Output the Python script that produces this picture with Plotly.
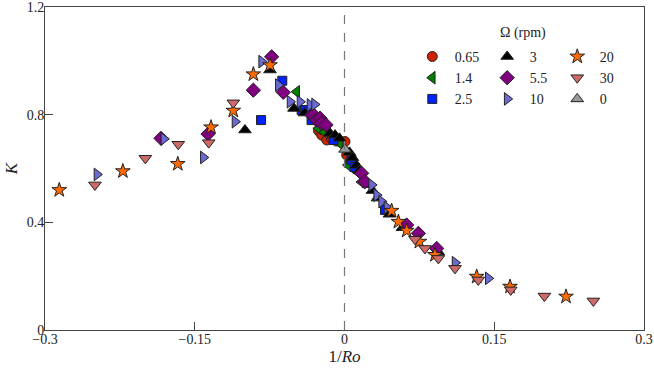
import plotly.graph_objects as go

# K against 1/Ro, one series per rotation rate (rpm)
x_065 = [-0.026, -0.0228, -0.0178, -0.013, -0.008, 0.0005, 0.0022, 0.006, 0.011]
k_065 = [0.740, 0.724, 0.706, 0.712, 0.702, 0.700, 0.650, 0.625, 0.600]

x_14 = [-0.0479, -0.0262, -0.020, -0.0045, 0.0035, 0.0055, 0.012, 0.017]
k_14 = [0.885, 0.749, 0.735, 0.693, 0.613, 0.631, 0.590, 0.550]

x_25 = [-0.0836, -0.0623, -0.0429, -0.0396, -0.033, -0.011, 0.007, 0.010, 0.0406]
k_25 = [0.780, 0.926, 0.817, 0.817, 0.780, 0.706, 0.631, 0.605, 0.446]

x_3 = [-0.0997, -0.0746, -0.0506, -0.040, -0.0145, -0.0095, -0.005, 0.005, 0.008,
       0.012, 0.015, 0.020, 0.024, 0.028, 0.033, 0.045, 0.058, 0.094]
k_3 = [0.743, 0.966, 0.823, 0.806, 0.731, 0.724, 0.712, 0.660, 0.640,
       0.612, 0.592, 0.560, 0.540, 0.518, 0.490, 0.430, 0.380, 0.290]

x_55 = [-0.1838, -0.1367, -0.0913, -0.073, -0.0613, -0.0329, -0.031, -0.0279,
        -0.0245, -0.0229, -0.0185, 0.0172, 0.0205, 0.0623, 0.074, 0.0923]
k_55 = [0.712, 0.728, 0.891, 1.015, 0.883, 0.799, 0.799, 0.780,
        0.787, 0.768, 0.762, 0.582, 0.551, 0.390, 0.359, 0.303]

x_10 = [-0.248, -0.181, -0.1414, -0.1097, -0.083, -0.0663, -0.0546, -0.0446,
        -0.0346, -0.030, 0.0272, 0.0322, 0.0372, 0.0425, 0.1107, 0.144]
k_10 = [0.578, 0.710, 0.641, 0.774, 0.997, 0.910, 0.848, 0.848,
        0.836, 0.838, 0.539, 0.501, 0.477, 0.455, 0.250, 0.192]

x_20 = [-0.2857, -0.222, -0.167, -0.1337, -0.1114, -0.0913, -0.0746, 0.0472,
        0.054, 0.0623, 0.075, 0.0906, 0.1324, 0.1658, 0.2219]
k_20 = [0.520, 0.590, 0.617, 0.753, 0.815, 0.950, 0.984, 0.443,
        0.402, 0.369, 0.328, 0.279, 0.198, 0.161, 0.124]

x_30 = [-0.250, -0.1995, -0.1665, -0.136, -0.1114, 0.0706, 0.0806, 0.094,
        0.1107, 0.134, 0.1665, 0.2002, 0.2493]
k_30 = [0.539, 0.638, 0.690, 0.696, 0.844, 0.337, 0.303, 0.266,
        0.229, 0.186, 0.149, 0.126, 0.108]

x_0 = [0.0005]
k_0 = [0.671]

series = [
    ("0.65", x_065, k_065, "circle", "#cc2200", 10, "legend"),
    ("1.4", x_14, k_14, "triangle-left", "#008000", 11, "legend"),
    ("2.5", x_25, k_25, "square", "#0022ff", 9, "legend"),
    ("3", x_3, k_3, "triangle-up", "#000000", 11, "legend2"),
    ("5.5", x_55, k_55, "diamond", "#800080", 11, "legend2"),
    ("10", x_10, k_10, "triangle-right", "#6a6ad0", 11, "legend2"),
    ("20", x_20, k_20, "star", "#ff6a00", 11, "legend3"),
    ("30", x_30, k_30, "triangle-down", "#cd6a6a", 11, "legend3"),
    ("0", x_0, k_0, "triangle-up", "#999999", 11, "legend3"),
]

serif = "Liberation Serif, DejaVu Serif"

fig = go.Figure()
for name, xs, ks, sym, col, size, leg in series:
    fig.add_trace(
        go.Scatter(
            x=xs,
            y=ks,
            mode="markers",
            name=name,
            legend=leg,
            marker=dict(symbol=sym, color=col, size=size,
                        line=dict(color="#222222", width=1))
        )
    )

fig.add_vline(x=0, line=dict(color="#777777", width=1.2, dash="dash"))

legend_style = dict(font=dict(family=serif, size=14, color="#222222"),
                    bgcolor="rgba(0,0,0,0)", yanchor="top", xanchor="left",
                    y=0.895, itemwidth=35, tracegroupgap=0)

fig.update_layout(
    width=654,
    height=370,
    margin=dict(l=45, r=10, t=7, b=40),
    plot_bgcolor="white",
    paper_bgcolor="white",
    font=dict(family=serif, size=14, color="#222222"),
    legend=dict(x=0.609, **legend_style),
    legend2=dict(x=0.734, **legend_style),
    legend3=dict(x=0.851, **legend_style),
    annotations=[dict(text="Ω (rpm)", x=0.798, y=0.9195, xref="paper",
                      yref="paper", xanchor="center", yanchor="middle",
                      showarrow=False,
                      font=dict(family=serif, size=14, color="#222222"))],
)

fig.update_xaxes(
    range=[-0.3, 0.3],
    tickvals=[-0.3, -0.15, 0, 0.15, 0.3],
    title=dict(text="1/<i>Ro</i>", standoff=0),
    showgrid=False, zeroline=False, automargin=False,
    ticklabeloverflow="allow", ticklabelstandoff=-4,
    showline=True, mirror=True, linecolor="#444444", linewidth=1,
    ticks="inside", ticklen=8, tickcolor="#444444"
)
fig.update_yaxes(
    range=[0, 1.2],
    tickvals=[0, 0.4, 0.8, 1.2],
    title=dict(text="<i>K</i>", standoff=4),
    showgrid=False, zeroline=False, automargin=False,
    ticklabeloverflow="allow", ticklabelstandoff=-3,
    showline=True, mirror=True, linecolor="#444444", linewidth=1,
    ticks="inside", ticklen=8, tickcolor="#444444"
)

# drop the page's default body margin so the figure sits at the window corner
fig.write_html("out.html", config={"displayModeBar": False},
               post_script="document.body.style.margin='0';")
